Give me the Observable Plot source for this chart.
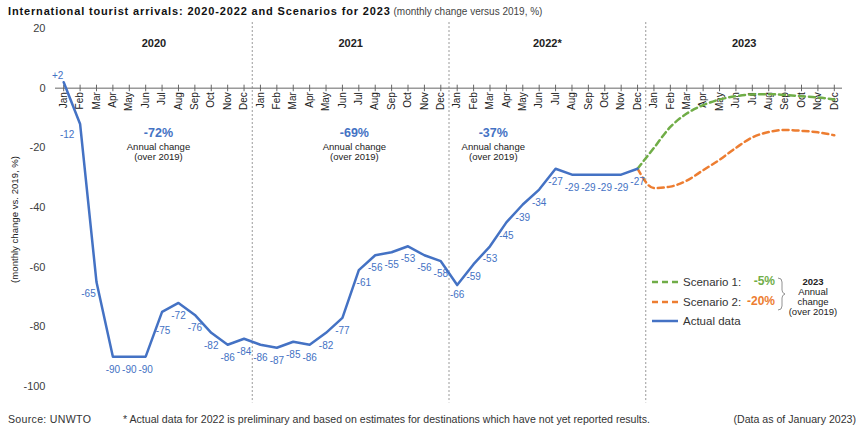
<!DOCTYPE html>
<html><head><meta charset="utf-8">
<script src="https://cdn.jsdelivr.net/npm/d3@7"></script>
<script src="https://cdn.jsdelivr.net/npm/@observablehq/plot@0.6"></script>
<style>
body{margin:0;background:#fff;font-family:"Liberation Sans",Arial,sans-serif;}
#wrap{position:relative;width:860px;height:428px;overflow:hidden;background:#fff}
#title{position:absolute;left:8px;top:5px;font-size:11px;color:#111;white-space:nowrap}
#title b{font-weight:bold;letter-spacing:0.85px}
#title span{color:#444;font-size:10px}
#chart{position:absolute;left:0;top:20px}
.foot{position:absolute;top:413px;font-size:10.6px;color:#333;white-space:nowrap}
#legend{position:absolute;left:0;top:0;width:860px;height:428px;pointer-events:none}
.lg{position:absolute;font-size:11.5px;color:#333;white-space:nowrap;line-height:14px}
.lv{position:absolute;font-size:12px;font-weight:bold;white-space:nowrap;line-height:14px;text-align:right}
.ln{position:absolute;font-size:9.5px;color:#222;text-align:center;line-height:10px;white-space:nowrap}
</style></head>
<body>
<div id="wrap">
  <div id="title"><b>International tourist arrivals: 2020-2022 and Scenarios for 2023</b><span> (monthly change versus 2019, %)</span></div>
  <div id="chart"></div>
  <div class="foot" style="left:8px;letter-spacing:0.3px">Source: UNWTO</div>
  <div class="foot" style="left:123px">* Actual data for 2022 is preliminary and based on estimates for destinations which have not yet reported results.</div>
  <div class="foot" style="right:4px">(Data as of January 2023)</div>
  <div id="legend"></div>
</div>
<script>
// ---------- data ----------
const months = ["Jan","Feb","Mar","Apr","May","Jun","Jul","Aug","Sep","Oct","Nov","Dec"];
const years = ["2020","2021","2022*","2023"];
const actual = [
  2,-12,-65,-90,-90,-90,-75,-72,-76,-82,-86,-84,
  -86,-87,-85,-86,-82,-77,-61,-56,-55,-53,-56,-58,
  -66,-59,-53,-45,-39,-34,-27,-29,-29,-29,-29,-27
];
// Dec 2022 through Dec 2023
const scenario1 = [-27,-20,-13,-8.5,-5.7,-3.8,-2.7,-2.1,-2,-2.3,-2.7,-3.1,-3.8];
const scenario2 = [-27,-33.5,-33,-31,-27.5,-24,-20,-16.5,-14.7,-14,-14.3,-14.8,-15.8];
const annualChange = ["-72%","-69%","-37%"];
const scenarioAnnual = ["-5%","-20%"];
const yTicks = [20,0,-20,-40,-60,-80,-100];

// ---------- build ----------
const blue = "#4472C4", green = "#70AD47", orange = "#ED7D31";
const allMonths = d3.range(48).map(i => ({i, m: months[i % 12]}));
const act = actual.map((v, i) => ({i, v, label: v > 0 ? "+" + v : String(v)}));
const s1 = scenario1.map((v, k) => ({i: 35 + k, v}));
const s2 = scenario2.map((v, k) => ({i: 35 + k, v}));
const yearRows = years.map((y, k) => ({i: k * 12 + 5.5, y}));
const annRows = annualChange.map((t, k) => ({i: [5.78, 17.73, 26.2][k], t}));

// label offsets (layout)
const off = {0:[-6,-6], 1:[-13,11], 2:[-8,12], 6:[1,19], 18:[5,13], 24:[0,10]};
const labelMarks = act.map(d => {
  const [dx, dy] = off[d.i] || [0, 13];
  return Plot.text([d], {x: "i", y: "v", text: "label", dx, dy, fill: blue, fontSize: 10});
});

const chart = Plot.plot({
  width: 860, height: 390,
  marginLeft: 55, marginRight: 18, marginTop: 8, marginBottom: 24,
  style: {fontFamily: '"Liberation Sans", Arial, sans-serif', background: "#fff"},
  x: {domain: [-0.5, 47.5], axis: null},
  y: {domain: [-100, 20], ticks: yTicks, tickSize: 0, tickPadding: 10, label: null, tickFormat: d => String(d)},
  marks: [
    Plot.axisY({ticks: yTicks, tickSize: 0, tickPadding: 10, fontSize: 11, color: "#404040", label: null, tickFormat: d => String(d)}),
    Plot.text([{i: -0.5, v: -44}], {x: "i", y: "v", text: () => "(monthly change vs. 2019, %)", dx: -41, rotate: -90, fontSize: 9.6, fill: "#222"}),
    Plot.ruleX([11.5, 23.5, 35.5], {y1: 22, y2: -105.5, stroke: "#999", strokeDasharray: "2,2", strokeWidth: 1}),
    Plot.ruleY([0], {x1: -0.5, x2: 47.5, stroke: "#666", strokeWidth: 1}),
    Plot.ruleX(allMonths, {x: "i", y1: 1, y2: -1.2, stroke: "#666", strokeWidth: 1}),
    Plot.text(allMonths, {x: "i", y: 0, text: "m", rotate: -90, textAnchor: "end", dy: 4, fontSize: 10, fill: "#222"}),
    Plot.text(yearRows, {x: "i", y: 15.1, text: "y", fontSize: 11, fontWeight: "bold", fill: "#222"}),
    Plot.text(annRows, {x: "i", y: -15.1, text: "t", fontSize: 12.5, fontWeight: "bold", fill: blue}),
    Plot.text(annRows, {x: "i", y: -19.8, text: () => "Annual change", fontSize: 9.5, fill: "#222"}),
    Plot.text(annRows, {x: "i", y: -23.1, text: () => "(over 2019)", fontSize: 9.5, fill: "#222"}),
    Plot.line(s2, {x: "i", y: "v", stroke: orange, strokeWidth: 2.5, strokeDasharray: "6,4", curve: "monotone-x"}),
    Plot.line(s1, {x: "i", y: "v", stroke: green, strokeWidth: 2.5, strokeDasharray: "6,4", curve: "monotone-x"}),
    Plot.line(act, {x: "i", y: "v", stroke: blue, strokeWidth: 2.5}),
    ...labelMarks
  ]
});
document.getElementById("chart").appendChild(chart);

// legend (inside plot area, absolute overlay)
const lg = document.getElementById("legend");
lg.innerHTML = `
<svg width="860" height="428" style="position:absolute;left:0;top:0">
  <line x1="652" x2="678" y1="282" y2="282" stroke="${green}" stroke-width="2.5" stroke-dasharray="6,4"/>
  <line x1="652" x2="678" y1="302" y2="302" stroke="${orange}" stroke-width="2.5" stroke-dasharray="6,4"/>
  <line x1="652" x2="678" y1="321" y2="321" stroke="${blue}" stroke-width="2.5"/>
  <path d="M778,278 Q782,278 782,282 L782,290 Q782,293 785,294 Q782,295 782,298 L782,306 Q782,310 778,310" fill="none" stroke="#777" stroke-width="0.8"/>
</svg>
<div class="lg" style="left:683px;top:275px">Scenario 1:</div>
<div class="lv" style="left:735px;width:40px;top:274px;color:${green}">${scenarioAnnual[0]}</div>
<div class="lg" style="left:683px;top:295px">Scenario 2:</div>
<div class="lv" style="left:735px;width:40px;top:294px;color:${orange}">${scenarioAnnual[1]}</div>
<div class="lg" style="left:683px;top:314px">Actual data</div>
<div class="ln" style="left:783px;width:60px;top:277px;font-weight:bold">2023</div>
<div class="ln" style="left:783px;width:60px;top:287px">Annual</div>
<div class="ln" style="left:783px;width:60px;top:297px">change</div>
<div class="ln" style="left:783px;width:60px;top:307px">(over 2019)</div>
`;
</script>
</body></html>
